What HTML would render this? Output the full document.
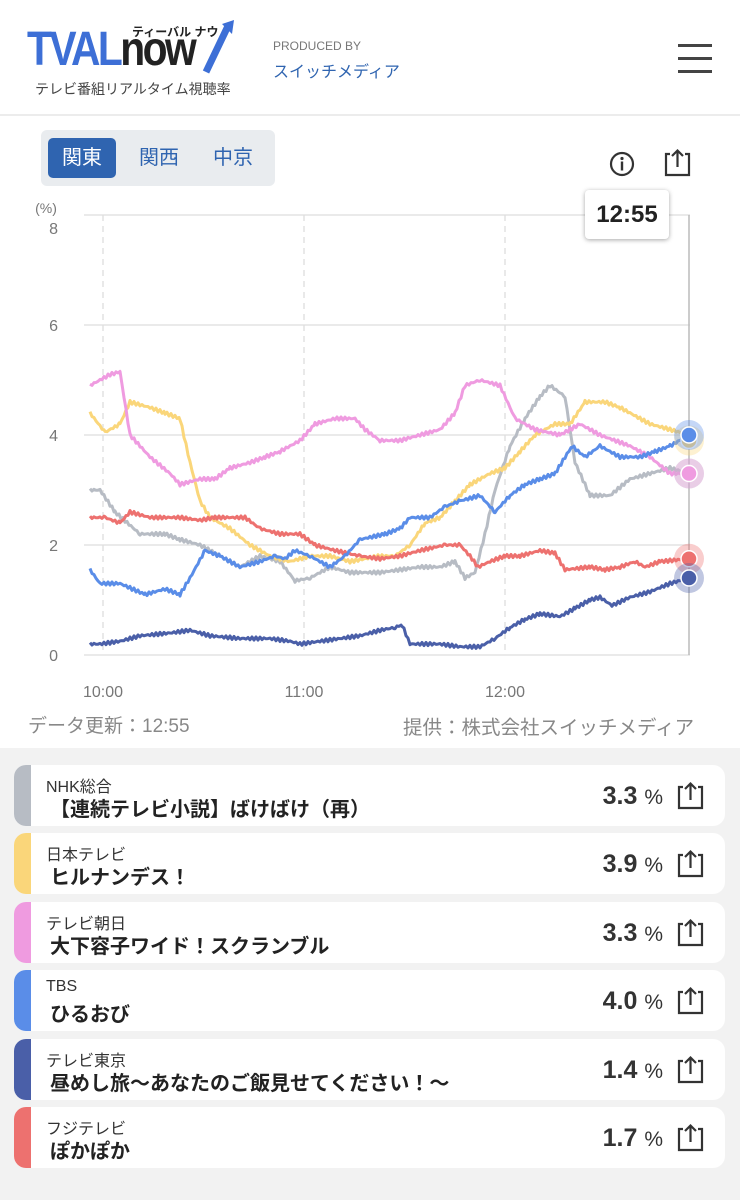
<!DOCTYPE html>
<html><head><meta charset="utf-8"><style>
*{margin:0;padding:0;box-sizing:border-box}
body{width:740px;height:1200px;background:#fff;font-family:"Liberation Sans","Noto Sans CJK JP",sans-serif;position:relative;overflow:hidden;color:#333}
.abs{position:absolute}
.hdr{left:0;top:0;width:740px;height:116px;border-bottom:2px solid #ececec}
.tabs{left:41px;top:130px;width:234px;height:56px;background:#e9ecef;border-radius:6px}
.tab{position:absolute;top:8px;height:40px;width:68px;line-height:40px;text-align:center;font-size:20px;color:#2f64b0}
.list{left:0;top:748px;width:740px;height:452px;background:#f2f2f2}
.card{position:absolute;left:14px;width:711px;height:61px;background:#fff;border-radius:12px;overflow:hidden}
.card .bar{position:absolute;left:0;top:0;width:17px;height:100%}
.card .ch{position:absolute;left:32px;top:8px;font-size:16px;color:#333}
.card .pg{position:absolute;left:36px;top:28px;font-size:20px;font-weight:bold;color:#222}
.card .v{position:absolute;right:62px;top:17px;font-size:25px;font-weight:bold;color:#333}
.card .v span{font-size:21px;font-weight:normal}
.card svg{position:absolute;right:20px;top:16px}
</style></head><body>
<div class="abs hdr">
 <div class="abs" style="left:27px;top:22px;font-size:48px;font-weight:bold;color:#3d6fd6;letter-spacing:-3px;transform:scaleX(.85);transform-origin:left">TVAL<span style="color:#222">now</span></div>
 <div class="abs" style="left:132px;top:23px;font-size:12px;font-weight:bold;color:#222">ティーバル ナウ</div>
 <svg class="abs" style="left:200px;top:18px" width="36" height="56"><path d="M6 54 L28 8" stroke="#3d6fd6" stroke-width="7"/><path d="M22 6 L34 2 L32 16 Z" fill="#3d6fd6"/></svg>
 <div class="abs" style="left:35px;top:79px;font-size:14px;color:#444">テレビ番組リアルタイム視聴率</div>
 <div class="abs" style="left:273px;top:39px;font-size:12px;color:#777">PRODUCED BY</div>
 <div class="abs" style="left:273px;top:58px;font-size:16px;color:#2f64b0">スイッチメディア</div>
 <div class="abs" style="left:678px;top:44px;width:34px;height:3px;background:#444"></div>
 <div class="abs" style="left:678px;top:57px;width:34px;height:3px;background:#444"></div>
 <div class="abs" style="left:678px;top:70px;width:34px;height:3px;background:#444"></div>
</div>
<div class="abs tabs">
 <div class="tab" style="left:7px;background:#2f64b0;color:#fff;border-radius:5px">関東</div>
 <div class="tab" style="left:84px">関西</div>
 <div class="tab" style="left:158px">中京</div>
</div>
<svg class="abs" style="left:608px;top:150px" width="28" height="28"><circle cx="14" cy="14" r="11" fill="none" stroke="#333" stroke-width="2.2"/><circle cx="14" cy="8.5" r="1.6" fill="#333"/><rect x="12.8" y="11.5" width="2.4" height="9" fill="#333"/></svg>
<svg class="abs" style="left:662px;top:148px" width="32" height="30"><path d="M8 6 H4 V27 H27 V6 H23" fill="none" stroke="#333" stroke-width="2.2"/><path d="M15.5 19 V3 M10 8 L15.5 2.5 L21 8" fill="none" stroke="#333" stroke-width="2.2"/></svg>
<svg id="ch" class="abs" style="left:0;top:190px" width="740" height="530"></svg>
<div class="abs" style="left:585px;top:190px;width:84px;height:49px;background:#fff;border-radius:4px;box-shadow:0 1px 5px rgba(0,0,0,.35);font-size:24px;font-weight:bold;text-align:center;line-height:49px;color:#222">12:55</div>
<div class="abs" style="left:28px;top:711px;font-size:19px;color:#888">データ更新：12:55</div>
<div class="abs" style="left:403px;top:711px;font-size:19.5px;color:#888;white-space:nowrap">提供：株式会社スイッチメディア</div>
<div class="abs list"></div>
<div id="cards"></div>
<script>
const svg=document.getElementById('ch');const OY=190;
function Y(v){return 655-55*v-OY}
let h='';
[0,2,4,6,8].forEach(v=>{const y=Y(v);h+=`<line x1="84" x2="690" y1="${y}" y2="${y}" stroke="#e4e4e4" stroke-width="1.5"/>`;const ly=v==8?y+19:y+6;h+=`<text x="58" y="${ly}" text-anchor="end" font-size="16" fill="#777">${v}</text>`});
h+=`<text x="46" y="${213-OY}" text-anchor="middle" font-size="14" fill="#777">(%)</text>`;
[[103,'10:00'],[304,'11:00'],[505,'12:00']].forEach(([x,t])=>{h+=`<line x1="${x}" x2="${x}" y1="${Y(8)}" y2="${Y(0)}" stroke="#ddd" stroke-dasharray="6,5" stroke-width="1.3"/><text x="${x}" y="${697-OY}" text-anchor="middle" font-size="16" fill="#777">${t}</text>`});
h+=`<line x1="689" x2="689" y1="${Y(8)}" y2="${Y(0)}" stroke="#bbb" stroke-width="1.5"/>`;
const D={
'#b7bcc4':[[90,3],[100,3],[115,2.6],[140,2.2],[165,2.2],[180,2.1],[200,2],[220,1.8],[240,1.6],[260,1.8],[280,1.7],[295,1.35],[310,1.4],[330,1.6],[350,1.5],[380,1.5],[420,1.6],[440,1.6],[455,1.7],[465,1.4],[475,1.5],[485,2.2],[495,3],[510,3.8],[525,4.3],[540,4.7],[550,4.9],[565,4.7],[575,3.5],[590,2.9],[610,2.9],[630,3.2],[650,3.3],[670,3.4],[689,3.3]],
'#fad67a':[[90,4.4],[105,4.05],[120,4.2],[130,4.6],[150,4.5],[165,4.4],[180,4.3],[190,3.5],[200,2.8],[210,2.5],[230,2.3],[250,2],[270,1.8],[290,1.7],[310,1.8],[330,1.8],[350,1.7],[380,1.8],[395,1.8],[410,2],[425,2.4],[440,2.5],[455,2.8],[470,3.1],[490,3.3],[505,3.4],[520,3.7],[535,4],[555,4.2],[570,4.2],[585,4.6],[605,4.6],[620,4.5],[630,4.4],[650,4.2],[670,4.1],[689,4]],
'#ef9be0':[[90,4.9],[110,5.1],[120,5.15],[130,4],[150,3.6],[170,3.3],[180,3.1],[200,3.2],[215,3.2],[230,3.4],[250,3.5],[265,3.6],[280,3.7],[300,3.9],[315,4.2],[335,4.3],[355,4.3],[365,4.1],[380,3.9],[400,3.9],[420,4],[440,4.1],[455,4.4],[465,4.9],[480,5],[500,4.9],[515,4.3],[535,4.1],[560,4],[580,4.2],[600,4],[630,3.8],[650,3.6],[670,3.3],[689,3.3]],
'#ed716f':[[90,2.5],[105,2.5],[120,2.4],[130,2.6],[150,2.5],[180,2.5],[200,2.45],[215,2.5],[245,2.5],[260,2.3],[280,2.2],[300,2.2],[315,2],[335,1.9],[360,1.8],[380,1.75],[400,1.8],[420,1.9],[445,2],[460,2],[470,1.8],[478,1.6],[490,1.7],[505,1.8],[520,1.8],[540,1.9],[555,1.85],[565,1.55],[590,1.6],[605,1.55],[620,1.6],[635,1.7],[645,1.6],[660,1.7],[689,1.75]],
'#5a8de8':[[90,1.55],[100,1.3],[120,1.3],[145,1.1],[165,1.2],[180,1.1],[190,1.4],[205,1.9],[220,1.8],[230,1.7],[240,1.6],[260,1.7],[275,1.8],[285,1.75],[295,1.9],[310,1.8],[330,1.6],[345,1.8],[360,2.1],[385,2.2],[400,2.3],[410,2.5],[430,2.5],[445,2.7],[460,2.8],[480,2.9],[495,2.6],[510,2.9],[525,3.1],[540,3.2],[555,3.3],[572,3.8],[585,3.6],[600,3.8],[620,3.6],[640,3.6],[655,3.7],[670,3.8],[689,4]],
'#4a5fa8':[[90,.2],[100,.2],[120,.25],[140,.35],[170,.4],[190,.45],[210,.35],[240,.3],[270,.3],[290,.25],[300,.2],[320,.25],[340,.3],[360,.35],[380,.45],[395,.5],[402,.55],[410,.2],[440,.2],[460,.15],[480,.15],[495,.3],[510,.5],[525,.65],[540,.75],[560,.7],[575,.85],[590,1],[600,1.05],[612,.9],[630,1.05],[650,1.15],[670,1.3],[689,1.4]]};
for(const c in D){const p=D[c];let pts=[];for(let i=0;i<p.length-1;i++){const [x0,v0]=p[i],[x1,v1]=p[i+1];for(let x=x0;x<x1;x+=2){const t=(x-x0)/(x1-x0);const v=v0+(v1-v0)*t+Math.sin(x*1.7)*0.03;pts.push(x+','+Y(v).toFixed(1))}}const l=p[p.length-1];pts.push(l[0]+','+Y(l[1]));h+=`<polyline points="${pts.join(' ')}" fill="none" stroke="${c}" stroke-width="3" stroke-linejoin="round"/>`}
[['#fad67a',3.9],['#b7bcc4',3.3],['#ef9be0',3.3],['#ed716f',1.75],['#4a5fa8',1.4],['#5a8de8',4.0]].forEach(([c,v])=>{h+=`<circle cx="689" cy="${Y(v)}" r="15" fill="${c}" opacity=".35"/><circle cx="689" cy="${Y(v)}" r="8" fill="${c}" stroke="#fff" stroke-width="1.5"/>`});
svg.innerHTML=h;
const R=[['#b7bcc4','NHK総合','【連続テレビ小説】ばけばけ（再）','3.3'],['#fad67a','日本テレビ','ヒルナンデス！','3.9'],['#ef9be0','テレビ朝日','大下容子ワイド！スクランブル','3.3'],['#5a8de8','TBS','ひるおび','4.0'],['#4a5fa8','テレビ東京','昼めし旅～あなたのご飯見せてください！～','1.4'],['#ed716f','フジテレビ','ぽかぽか','1.7']];
let ch='';R.forEach((r,i)=>{const top=765+i*68.4;ch+=`<div class="card" style="top:${top}px"><div class="bar" style="background:${r[0]}"></div><div class="ch">${r[1]}</div><div class="pg">${r[2]}</div><div class="v">${r[3]} <span>%</span></div><svg width="30" height="30"><path d="M8 6 H4 V27 H27 V6 H23" fill="none" stroke="#333" stroke-width="2.2"/><path d="M15.5 19 V3 M10 8 L15.5 2.5 L21 8" fill="none" stroke="#333" stroke-width="2.2"/></svg></div>`});
document.getElementById('cards').innerHTML=ch;
</script>
</body></html>
